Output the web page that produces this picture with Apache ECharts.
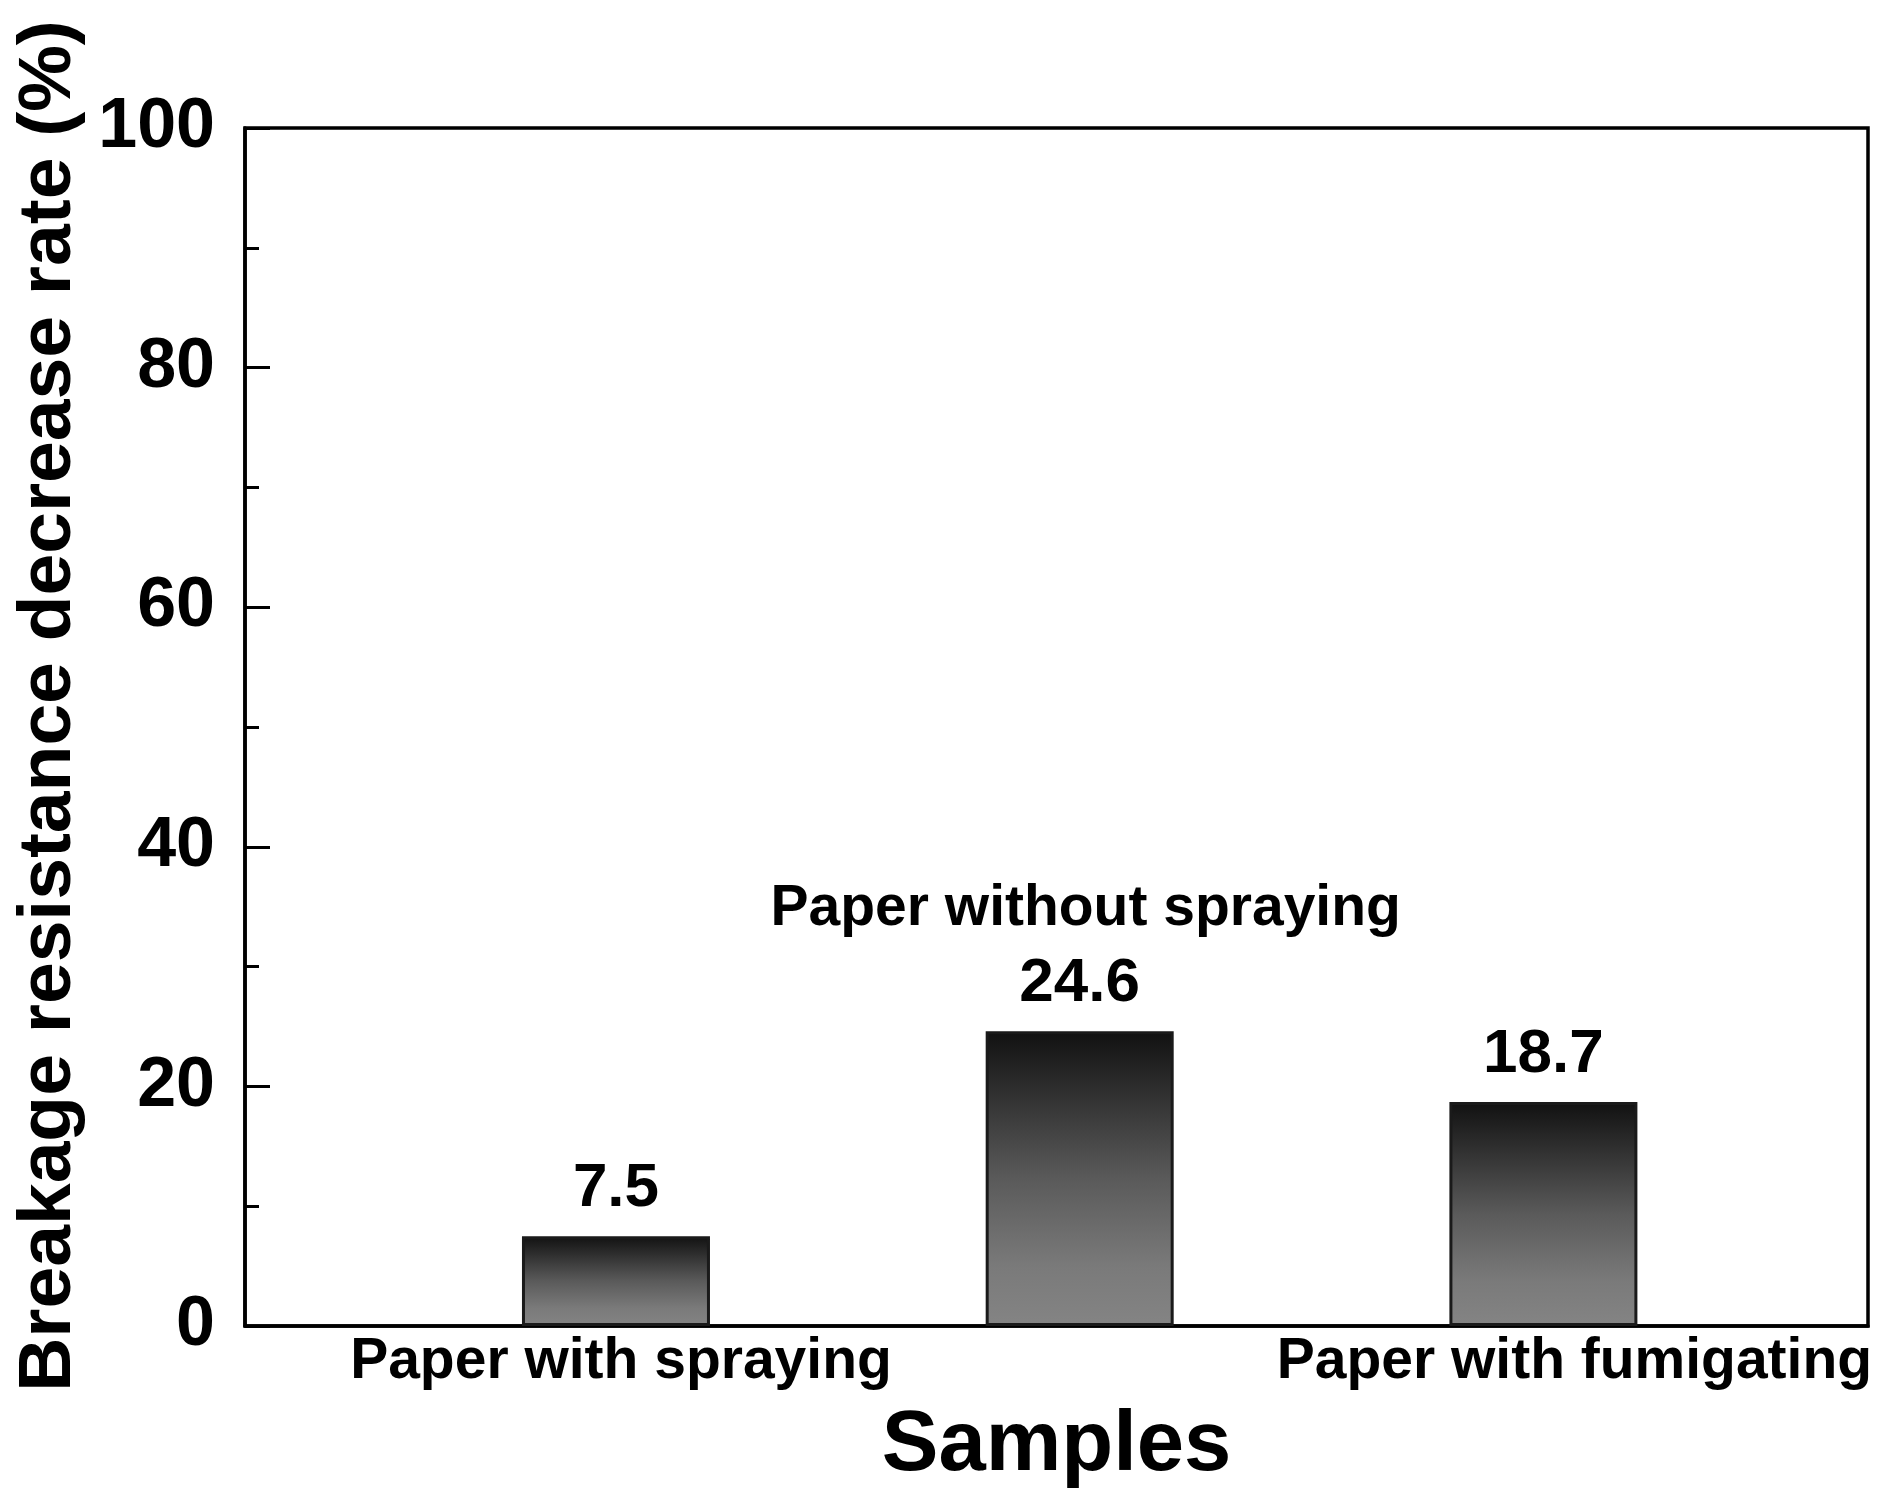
<!DOCTYPE html>
<html>
<head>
<meta charset="utf-8">
<title>Breakage resistance decrease rate</title>
<script src="https://cdn.jsdelivr.net/npm/echarts@6/dist/echarts.min.js"></script>
<style>
html, body { margin: 0; padding: 0; background: #fff; }
#main { width: 1888px; height: 1503px; }
</style>
</head>
<body>
<div id="main"></div>
<script>
// samples on the x axis (positions 1..3) and measured decrease rate (%)
var categories = ['Paper with spraying', 'Paper without spraying', 'Paper with fumigating'];
var positions = [1, 2, 3];
var rates = [7.5, 24.6, 18.7];
var yTicks = [0, 20, 40, 60, 80, 100];

var font = '"Liberation Sans", Arial, sans-serif';

var barData = positions.map(function (p, i) { return [p, rates[i]]; });

var myChart = echarts.init(document.getElementById('main'));
var option = {
    backgroundColor: '#fff',
    animation: false,
    grid: {
        left: 245,
        right: 20,
        top: 128,
        bottom: 177,
        show: true,
        borderColor: '#000',
        borderWidth: 3.5
    },
    xAxis: {
        type: 'value',
        min: 0.2,
        max: 3.7,
        splitLine: { show: false },
        axisLine: { lineStyle: { color: '#000', width: 3.5 } },
        axisTick: { show: false },
        axisLabel: {
            customValues: [1, 3],
            margin: 8,
            fontFamily: font,
            fontWeight: 'bold',
            fontSize: 57,
            color: '#000',
            formatter: function (v) {
                var i = positions.indexOf(Math.round(v));
                if (i === 2) return '{r|' + categories[i] + '}';
                return '{c|' + categories[i] + '}';
            },
            rich: {
                c: { fontFamily: font, fontWeight: 'bold', fontSize: 57, color: '#000', padding: [0, 0, 0, 10] },
                r: { fontFamily: font, fontWeight: 'bold', fontSize: 57, color: '#000', padding: [0, 0, 0, 62] }
            }
        },
        name: 'Samples',
        nameLocation: 'middle',
        nameGap: 78,
        nameTextStyle: { fontFamily: font, fontWeight: 'bold', fontSize: 85, color: '#000' }
    },
    yAxis: {
        type: 'value',
        min: yTicks[0],
        max: yTicks[yTicks.length - 1],
        interval: yTicks[1] - yTicks[0],
        splitLine: { show: false },
        axisLine: { show: true, lineStyle: { color: '#000', width: 3.5 } },
        axisTick: { show: true, inside: true, length: 25, lineStyle: { color: '#000', width: 3 } },
        minorTick: { show: true, splitNumber: 2, length: 14, lineStyle: { color: '#000', width: 3 } },
        axisLabel: {
            margin: 30,
            fontFamily: font,
            fontWeight: 'bold',
            fontSize: 70,
            color: '#000'
        },
        name: 'Breakage resistance decrease rate (%)',
        nameLocation: 'middle',
        nameGap: 152,
        nameTextStyle: {
            fontFamily: font, fontWeight: 'bold', fontSize: 75, color: '#000',
            padding: [0, 0, 0, 42]
        }
    },
    series: [{
        type: 'bar',
        data: barData,
        barWidth: 188,
        itemStyle: {
            borderColor: '#1a1a1a',
            borderWidth: 3,
            color: {
                type: 'linear', x: 0, y: 0, x2: 0, y2: 1,
                colorStops: [
                    { offset: 0, color: '#111111' },
                    { offset: 0.5, color: '#5a5a5a' },
                    { offset: 0.8, color: '#7a7a7a' },
                    { offset: 1, color: '#848484' }
                ]
            }
        },
        label: {
            show: true,
            position: 'top',
            distance: 12,
            fontFamily: font,
            fontWeight: 'bold',
            fontSize: 62,
            color: '#000',
            align: 'center',
            formatter: function (p) {
                var v = '{v|' + rates[p.dataIndex] + '}';
                // middle sample carries its name above the value
                if (p.dataIndex === 1) return '{n|' + categories[1] + '}\n' + v;
                return v;
            },
            rich: {
                v: { fontFamily: font, fontWeight: 'bold', fontSize: 62, color: '#000', lineHeight: 70 },
                n: { fontFamily: font, fontWeight: 'bold', fontSize: 57, color: '#000', lineHeight: 80, padding: [0, 0, 0, 12] }
            }
        }
    }]
};
myChart.setOption(option);
</script>
</body>
</html>
